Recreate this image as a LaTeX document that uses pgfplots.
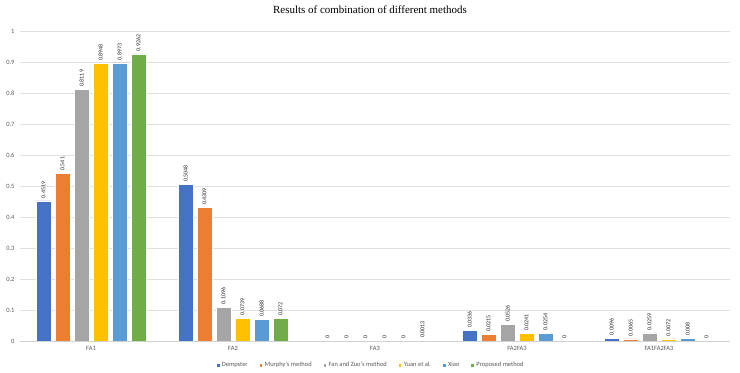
\documentclass[border=0pt]{standalone}
\usepackage{fontspec}
\setmainfont{Liberation Serif}
\newfontfamily\calib{Carlito}
\usepackage{pgfplots}
\usepackage{pgfplotstable}
\pgfplotsset{compat=1.18}

\definecolor{cDemp}{HTML}{4472C4}
\definecolor{cMur}{HTML}{ED7D31}
\definecolor{cFan}{HTML}{A5A5A5}
\definecolor{cYuan}{HTML}{FFC000}
\definecolor{cXiao}{HTML}{5B9BD5}
\definecolor{cProp}{HTML}{70AD47}
\definecolor{txt}{HTML}{595959}

% x: FA1, FA2, FA3, FA2FA3, FA1FA2FA3
\pgfplotstableread{
x  demp   mur    fan    yuan   xiao   prop
0  0.4519 0.541  0.8119 0.8948 0.8973 0.9262
1  0.5048 0.4309 0.1096 0.0739 0.0688 0.072
2  0      0      0      0      0      0.0013
3  0.0336 0.0215 0.0526 0.0241 0.0254 0
4  0.0096 0.0065 0.0259 0.0072 0.008  0
}\data

\begin{document}
\begin{tikzpicture}
\path[use as bounding box] (0,0) rectangle (740bp,373bp);
\begin{axis}[
    at={(20bp,32bp)}, anchor=south west,
    scale only axis,
    width=710bp, height=310bp,
    ybar=4bp,
    bar width=15bp,
    xmin=-0.5, xmax=4.5,
    ymin=0, ymax=1,
    xtick=data,
    xticklabels={FA1,FA2,FA3,FA2FA3,FA1FA2FA3},
    ytick={0,0.1,...,1.0},
    yticklabel style={/pgf/number format/fixed, /pgf/number format/precision=1},
    /pgf/number format/assume math mode=true,
    tick label style={font=\calib\fontsize{6.5}{7}\selectfont, text=txt},
    major tick length=0pt,
    ymajorgrids,
    grid style={draw=black!12, line width=0.6pt},
    axis y line=left,
    axis x line=bottom,
    y axis line style={draw=none},
    x axis line style={draw=black!18, line width=0.6pt, -},
    yticklabel style={xshift=-2bp},
    xticklabel style={yshift=-2bp},
    title={Results of combination of different methods},
    title style={font=\fontsize{11}{13}\selectfont, at={(0.5,1)}, anchor=base, yshift=12bp, xshift=-5bp},
    nodes near coords={\pgfmathprintnumber[fixed, precision=4]{\pgfplotspointmeta}},
    every node near coord/.append style={rotate=90, anchor=west, inner sep=2.5bp,
        font=\calib\fontsize{6}{7}\selectfont, text=black!85,
        /pgf/number format/assume math mode=true},
    legend columns=6,
    legend style={at={(0.494,0)}, anchor=center, yshift=-24bp, draw=none, fill=none,
        font=\calib\fontsize{6.5}{7}\selectfont, text=txt,
        /tikz/every even column/.append style={column sep=9bp}},
    legend image code/.code={\fill[#1] (0bp,-1.8bp) rectangle (3.6bp,1.8bp);},
    every axis plot/.append style={draw=white, line width=0.4pt},
]
\addplot[fill=cDemp] table[x=x, y=demp] {\data};
\addplot[fill=cMur] table[x=x, y=mur] {\data};
\addplot[fill=cFan] table[x=x, y=fan] {\data};
\addplot[fill=cYuan] table[x=x, y=yuan] {\data};
\addplot[fill=cXiao] table[x=x, y=xiao] {\data};
\addplot[fill=cProp] table[x=x, y=prop] {\data};
\legend{Dempster, Murphy's method, Fan and Zuo's method, Yuan et al., Xiao, Proposed method}
\end{axis}
\end{tikzpicture}
\end{document}
